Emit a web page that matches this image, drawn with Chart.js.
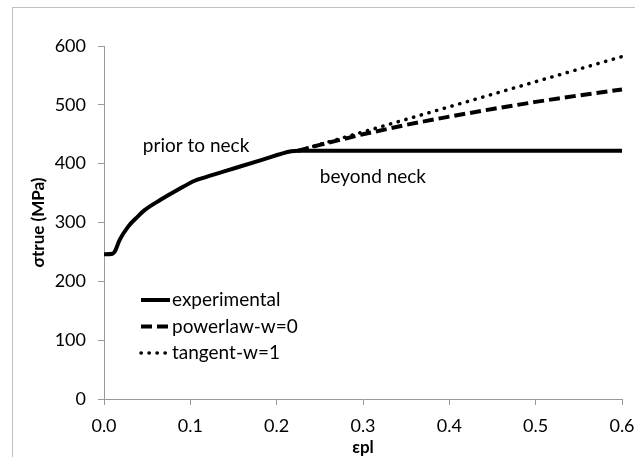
<!DOCTYPE html>
<html>
<head>
<meta charset="utf-8">
<script src="https://cdn.jsdelivr.net/npm/chart.js@4/dist/chart.umd.min.js"></script>
<style>
  body {margin: 0; background: #fff;}
  #wrap {position: relative; width: 635px; height: 457px;}
</style>
</head>
<body>
<div id="wrap"><canvas id="chart"></canvas></div>
<script>
// experimental true stress-strain curve (flat after necking)
let strainExp = [0, 0.010, 0.013, 0.018, 0.028, 0.039, 0.047, 0.066, 0.086, 0.105, 0.113, 0.144, 0.182, 0.217, 0.225, 0.6]
let stressExp = [246, 247, 252, 270, 293, 310, 321, 339, 356, 371, 375, 389, 406, 421, 422, 422]
// extrapolations beyond the neck
let strainPow = [0.225, 0.25, 0.3, 0.35, 0.4, 0.45, 0.5, 0.55, 0.6]
let stressPow = [422, 432, 450, 466, 480, 493, 505, 516, 526]
let strainTan = [0.225, 0.6]
let stressTan = [422, 582]
let seriesNames = ["experimental", "powerlaw-w=0", "tangent-w=1"]
let xTicks = [0, 0.1, 0.2, 0.3, 0.4, 0.5, 0.6]
let yTicks = [0, 100, 200, 300, 400, 500, 600]

const FONT = "Lato, 'Open Sans', sans-serif"
const AXIS_GREY = "#999999"

function pts(xs, ys) {
    return xs.map((x, i) => ({x: x, y: ys[i]}))
}

// frame round the whole chart, legend and the two labels inside the plot
let extras = {
    id: "extras",
    beforeDraw(chart) {
        let ctx = chart.ctx
        ctx.save()
        ctx.strokeStyle = "#c0c0c0"
        ctx.lineWidth = 1
        ctx.strokeRect(12.5, 7.5, 700, 600)
        ctx.restore()
    },
    afterDraw(chart) {
        let ctx = chart.ctx
        let xs = chart.scales.x
        let ys = chart.scales.y
        ctx.save()
        ctx.fillStyle = "#000"
        ctx.font = "19px " + FONT
        ctx.textBaseline = "middle"
        ctx.textAlign = "left"
        ctx.fillText("prior to neck", xs.getPixelForValue(0.045), ys.getPixelForValue(431))
        ctx.fillText("beyond neck", xs.getPixelForValue(0.250), ys.getPixelForValue(377))

        // legend
        let lx = 140, ly = 300, step = 26.5
        chart.data.datasets.forEach((ds, i) => {
            let y = ly + i * step
            ctx.beginPath()
            ctx.lineWidth = ds.borderWidth
            ctx.lineCap = ds.borderCapStyle || "butt"
            ctx.setLineDash(ds.borderDash || [])
            ctx.strokeStyle = ds.borderColor
            ctx.moveTo(lx + 1, y)
            ctx.lineTo(lx + 30, y)
            ctx.stroke()
            ctx.setLineDash([])
            ctx.fillText(ds.label, lx + 32, y)
        })
        ctx.restore()
    }
}

new Chart("chart", {
    type: "line",
    data: {
        datasets: [
            {label: seriesNames[0], data: pts(strainExp, stressExp), borderColor: "#000", borderWidth: 4,
             cubicInterpolationMode: "monotone", pointRadius: 0},
            {label: seriesNames[1], data: pts(strainPow, stressPow), borderColor: "#000", borderWidth: 4,
             borderDash: [11, 5], pointRadius: 0},
            {label: seriesNames[2], data: pts(strainTan, stressTan), borderColor: "#000", borderWidth: 3.5,
             borderDash: [0.3, 7.7], borderCapStyle: "round", pointRadius: 0}
        ]
    },
    options: {
        responsive: true,
        maintainAspectRatio: false,
        animation: false,
        clip: 4,
        layout: {padding: {left: 0, top: 46, right: 13, bottom: 0}},
        plugins: {legend: {display: false}, tooltip: {enabled: false}},
        scales: {
            x: {
                type: "linear", min: 0, max: 0.6,
                afterFit(scale) { scale.height = 58; scale.paddingLeft = 0; scale.paddingRight = 0 },
                afterBuildTicks(scale) { scale.ticks = xTicks.map(v => ({value: v})) },
                grid: {drawOnChartArea: false, drawTicks: true, tickLength: 6, color: AXIS_GREY},
                border: {display: true, color: AXIS_GREY},
                ticks: {color: "#000", font: {family: FONT, size: 18}, padding: 10, maxRotation: 0,
                        callback: v => v.toFixed(1)},
                title: {display: true, text: "εpl", color: "#000",
                        font: {family: FONT, size: 17, weight: "bold"}, padding: {top: 0, bottom: -1}}
            },
            y: {
                type: "linear", min: 0, max: 600,
                afterFit(scale) { scale.width = 104; scale.paddingTop = 0; scale.paddingBottom = 0 },
                afterBuildTicks(scale) { scale.ticks = yTicks.map(v => ({value: v})) },
                grid: {drawOnChartArea: false, drawTicks: true, tickLength: 6, color: AXIS_GREY},
                border: {display: true, color: AXIS_GREY},
                ticks: {color: "#000", font: {family: FONT, size: 18}, padding: 12},
                title: {display: true, text: "σtrue (MPa)", color: "#000",
                        font: {family: FONT, size: 17, weight: "bold"}, padding: {top: 28, bottom: 0}}
            }
        }
    },
    plugins: [extras]
})
</script>
</body>
</html>
